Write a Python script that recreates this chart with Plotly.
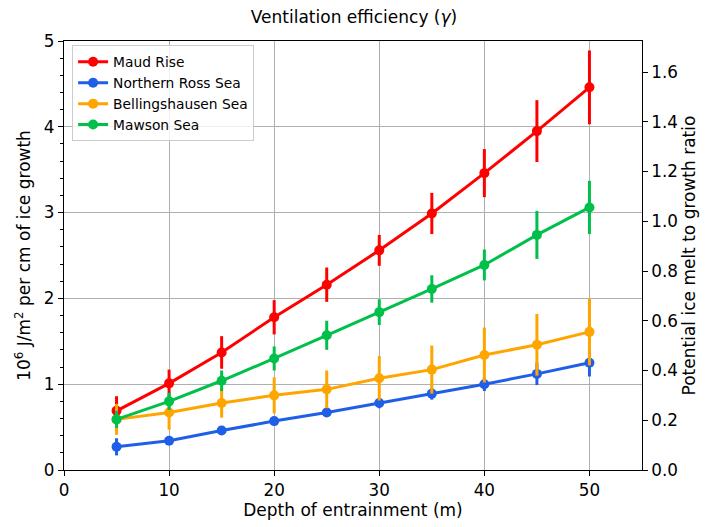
import plotly.graph_objects as go

depth = [5, 10, 15, 20, 25, 30, 35, 40, 45, 50]

series_names = ["Maud Rise", "Northern Ross Sea", "Bellingshausen Sea", "Mawson Sea"]
maud = [0.69, 1.01, 1.37, 1.78, 2.16, 2.56, 2.99, 3.46, 3.95, 4.46]
maud_err = [0.17, 0.16, 0.19, 0.20, 0.20, 0.18, 0.24, 0.28, 0.36, 0.43]
ross = [0.27, 0.34, 0.46, 0.57, 0.67, 0.78, 0.89, 1.00, 1.12, 1.25]
ross_err = [0.10, 0.03, 0.04, 0.04, 0.05, 0.06, 0.07, 0.08, 0.13, 0.16]
belling = [0.59, 0.67, 0.78, 0.87, 0.94, 1.07, 1.17, 1.34, 1.46, 1.61]
belling_err = [0.18, 0.20, 0.17, 0.21, 0.22, 0.26, 0.28, 0.32, 0.36, 0.39]
mawson = [0.59, 0.80, 1.04, 1.30, 1.57, 1.84, 2.11, 2.39, 2.74, 3.06]
mawson_err = [0.10, 0.10, 0.12, 0.14, 0.17, 0.15, 0.16, 0.18, 0.28, 0.31]

colors = ["#ff0000", "#1f5fe8", "#ffa500", "#00c04b"]
values = [maud, ross, belling, mawson]
errors = [maud_err, ross_err, belling_err, mawson_err]

FONT = "DejaVu Sans"
TICK = 16.8
TITLE = 17

fig = go.Figure()
for name, vals, errs, col in zip(series_names, values, errors, colors):
    fig.add_trace(go.Scatter(
        x=depth, y=vals, name=name, mode="lines+markers",
        line=dict(color=col, width=3),
        marker=dict(color=col, size=10),
        error_y=dict(type="data", array=errs, visible=True, color=col,
                     thickness=3, width=0),
    ))

# secondary axis carrier (no data)
fig.add_trace(go.Scatter(x=[], y=[], yaxis="y2", showlegend=False, hoverinfo="skip"))

fig.update_layout(
    width=708, height=527,
    paper_bgcolor="white", plot_bgcolor="white",
    margin=dict(l=64, r=64, t=41, b=53),
    font=dict(family=FONT, size=TICK, color="black"),
    title=dict(text="Ventilation efficiency (<i>\u03b3</i>)", x=0.5, xanchor="center",
               y=1 - 17 / 527, yanchor="middle", font=dict(size=TITLE)),
    showlegend=True,
    legend=dict(x=0.014, y=0.99, xanchor="left", yanchor="top",
                bgcolor="rgba(255,255,255,0.8)", bordercolor="#cccccc", borderwidth=1,
                font=dict(size=13.8), tracegroupgap=0, itemwidth=30),
    xaxis=dict(range=[0, 55], tickvals=[0, 10, 20, 30, 40, 50],
               showgrid=True, gridcolor="#b0b0b0", gridwidth=1,
               showline=True, linecolor="black", linewidth=1.2, mirror=True,
               ticks="outside", ticklen=5, tickcolor="black", zeroline=False,
               tickfont=dict(size=TICK),
               title=dict(text="Depth of entrainment (m)", standoff=3, font=dict(size=TITLE))),
    yaxis=dict(range=[0, 5], tickvals=[0, 1, 2, 3, 4, 5],
               showgrid=True, gridcolor="#b0b0b0", gridwidth=1,
               showline=True, linecolor="black", linewidth=1.2, mirror=True,
               ticks="outside", ticklen=5, tickcolor="black", zeroline=False,
               tickfont=dict(size=TICK),
               minor=dict(ticks="outside", dtick=0.2, ticklen=3, tickcolor="black", showgrid=False),
               title=dict(text="10<sup>6</sup> J/m<sup>2</sup> per cm of ice growth", standoff=8,
                          font=dict(size=TITLE))),
    yaxis2=dict(overlaying="y", side="right", range=[0, 1.725], dtick=0.2, tick0=0,
                tickformat=".1f", showgrid=False, zeroline=False,
                ticks="outside", ticklen=5, tickcolor="black", showline=False,
                tickfont=dict(size=TICK),
                title=dict(text="Potential ice melt to growth ratio", standoff=6,
                           font=dict(size=TITLE))),
)

fig.write_html("out.html")
